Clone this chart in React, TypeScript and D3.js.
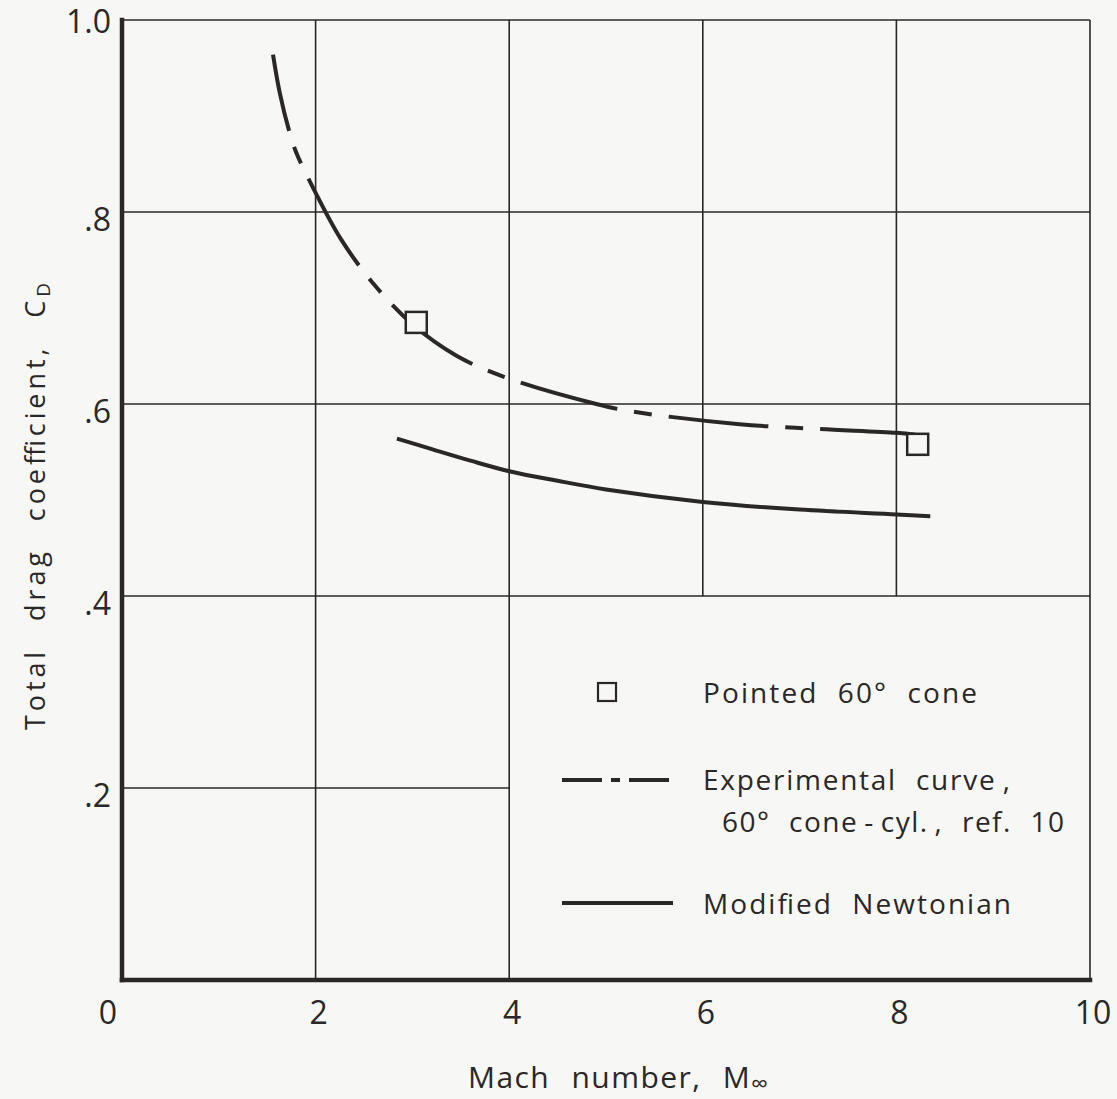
import React from "react";
import * as d3 from "d3";

// ---- data ----
const xTickValues = [0, 2, 4, 6, 8, 10];
const xTickLabels = ["0", "2", "4", "6", "8", "10"];
const yTickValues = [0.2, 0.4, 0.6, 0.8, 1.0];
const yTickLabels = [".2", ".4", ".6", ".8", "1.0"];

// vertical grid lines: mach value, cd from (to 1.0)
const vGridMach = [2, 4, 6, 8];
const vGridFrom = [0, 0, 0.4, 0.4];
// horizontal grid lines: cd value, mach to (from 0)
const hGridCd = [0.2, 0.4, 0.6, 0.8];
const hGridTo = [4, 10, 10, 10];

const expMach = [1.56, 1.63, 1.725, 1.8, 1.97, 2.26, 2.6, 3.0, 3.46, 3.98, 4.9, 5.28, 6.38, 7.2, 8.0, 8.2];
const expCd = [0.964, 0.924, 0.885, 0.862, 0.826, 0.772, 0.725, 0.683, 0.65, 0.627, 0.6, 0.592, 0.579, 0.574, 0.57, 0.568];

const newtMach = [2.84, 3.2, 3.6, 4.0, 4.5, 5.0, 6.0, 7.0, 8.0, 8.35];
const newtCd = [0.564, 0.553, 0.541, 0.53, 0.52, 0.511, 0.498, 0.49, 0.485, 0.483];

const coneMach = [3.04, 8.22];
const coneCd = [0.685, 0.558];

const legendLabels = [
  "Pointed 60° cone",
  "Experimental curve\u2009,",
  "60° cone\u2009-\u2009cyl.\u2009, ref. 10",
  "Modified Newtonian",
];
const xTitle = "Mach number, M";
const yTitle = "Total drag coefficient, C";

// ---- layout ----
const W = 1117;
const H = 1099;
const ink = "#2a2727";
const bg = "#f7f7f5";
const font = "'Open Sans', 'DejaVu Sans', sans-serif";

export default function App() {
  const x = d3.scaleLinear().domain([0, 10]).range([122, 1090]);
  const y = d3.scaleLinear().domain([0, 1]).range([980, 20]);

  const line = d3
    .line<[number, number]>()
    .x((d) => x(d[0]))
    .y((d) => y(d[1]))
    .curve(d3.curveCatmullRom.alpha(0.5));

  const expPts = expMach.map((m, i) => [m, expCd[i]] as [number, number]);
  const newtPts = newtMach.map((m, i) => [m, newtCd[i]] as [number, number]);

  const sq = 21;

  return (
    <svg
      width={W}
      height={H}
      style={{ position: "absolute", left: 0, top: 0, display: "block" }}
      fontFamily={font}
    >
      <rect x={0} y={0} width={W} height={H} fill={bg} />

      {/* grid */}
      <g stroke={ink} strokeWidth={1.6} fill="none">
        {vGridMach.map((m, i) => (
          <line key={"v" + i} x1={x(m)} x2={x(m)} y1={y(vGridFrom[i])} y2={y(1)} />
        ))}
        {hGridCd.map((c, i) => (
          <line key={"h" + i} x1={x(0)} x2={x(hGridTo[i])} y1={y(c)} y2={y(c)} />
        ))}
        <line x1={x(0)} x2={x(10)} y1={y(1)} y2={y(1)} />
        <line x1={x(10)} x2={x(10)} y1={y(1)} y2={y(0)} />
      </g>
      {/* thick axes */}
      <g stroke={ink} strokeWidth={4.5} fill="none" strokeLinecap="square">
        <line x1={x(0)} x2={x(0)} y1={y(1)} y2={y(0)} />
        <line x1={x(0)} x2={x(10)} y1={y(0)} y2={y(0)} />
      </g>

      {/* curves */}
      <path
        d={line(expPts) || ""}
        fill="none"
        stroke={ink}
        strokeWidth={4}
        strokeDasharray="100 17 18 17"
        strokeDashoffset={22}
      />
      <path d={line(newtPts) || ""} fill="none" stroke={ink} strokeWidth={4} />

      {/* cone points */}
      {coneMach.map((m, i) => (
        <rect
          key={"c" + i}
          x={x(m) - sq / 2}
          y={y(coneCd[i]) - sq / 2}
          width={sq}
          height={sq}
          fill={bg}
          stroke={ink}
          strokeWidth={2.5}
        />
      ))}

      {/* tick labels */}
      <g fill={ink} fontSize={32}>
        {xTickValues.map((v, i) => (
          <text key={"xt" + i} x={x(v) + (v === 0 ? -14 : 3)} y={1024} textAnchor="middle">
            {xTickLabels[i]}
          </text>
        ))}
        {yTickValues.map((v, i) => (
          <text key={"yt" + i} x={111} y={y(v) + (v === 1 ? 13 : 19)} textAnchor="end">
            {yTickLabels[i]}
          </text>
        ))}
      </g>

      {/* axis titles */}
      <text x={468} y={1088} fontSize={30} fill={ink} wordSpacing={12} textLength={300} lengthAdjust="spacing">
        {xTitle}
        <tspan fontSize={24} dy={4}>∞</tspan>
      </text>
      <text
        transform="translate(45,730) rotate(-90)"
        fontSize={27}
        fill={ink}
        wordSpacing={16}
        textLength={447}
        lengthAdjust="spacing"
      >
        {yTitle}
        <tspan fontSize={19} dy={5}>D</tspan>
      </text>

      {/* legend */}
      <g>
        <rect x={607 - 9} y={692 - 9} width={18} height={18} fill={bg} stroke={ink} strokeWidth={2.2} />
        <line x1={562} x2={673} y1={780} y2={780} stroke={ink} strokeWidth={4} strokeDasharray="40 9 9 9" />
        <line x1={562} x2={673} y1={903} y2={903} stroke={ink} strokeWidth={4} />
        <g fill={ink} fontSize={28} wordSpacing={10}>
          <text x={703} y={703} textLength={274} lengthAdjust="spacing">{legendLabels[0]}</text>
          <text x={703} y={790} textLength={307} lengthAdjust="spacing">{legendLabels[1]}</text>
          <text x={722} y={832} textLength={342} lengthAdjust="spacing">{legendLabels[2]}</text>
          <text x={703} y={914} textLength={308} lengthAdjust="spacing">{legendLabels[3]}</text>
        </g>
      </g>
    </svg>
  );
}
